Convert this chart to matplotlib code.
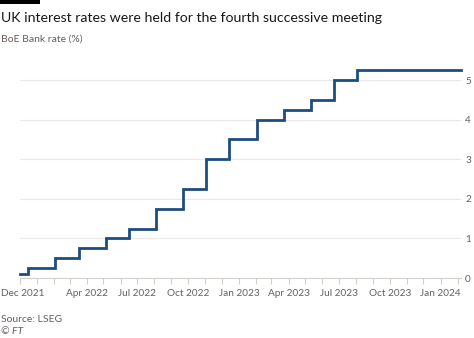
import matplotlib
matplotlib.use("Agg")
import matplotlib.pyplot as plt
import matplotlib.dates as mdates
import pandas as pd

plt.rcParams['font.family'] = ['Lato', 'DejaVu Sans']

change_dates = ["2021-12-01", "2021-12-16", "2022-02-03", "2022-03-17", "2022-05-05",
                "2022-06-16", "2022-08-04", "2022-09-22", "2022-11-03", "2022-12-15",
                "2023-02-02", "2023-03-23", "2023-05-11", "2023-06-22", "2023-08-03",
                "2024-02-07"]
rates = [0.1, 0.25, 0.5, 0.75, 1.0, 1.25, 1.75, 2.25, 3.0, 3.5, 4.0, 4.25, 4.5, 5.0, 5.25, 5.25]
tick_label_dates = ["2021-12-01", "2022-04-01", "2022-07-01", "2022-10-01", "2023-01-01",
                    "2023-04-01", "2023-07-01", "2023-10-01", "2024-01-01"]
tick_labels = ["Dec 2021", "Apr 2022", "Jul 2022", "Oct 2022", "Jan 2023",
               "Apr 2023", "Jul 2023", "Oct 2023", "Jan 2024"]
y_ticks = [0, 1, 2, 3, 4, 5]

title = "UK interest rates were held for the fourth successive meeting"
subtitle = "BoE Bank rate (%)"
source = "Source: LSEG"
credit = "© FT"

dates = pd.to_datetime(change_dates)

fig = plt.figure(figsize=(4.74, 3.38), dpi=100)
fig.patch.set_facecolor("white")
W, H = 474, 338
left, right, top, bottom = 20, 461, 62, 278
ax = fig.add_axes([left / W, 1 - bottom / H, (right - left) / W, (bottom - top) / H])

ax.step(dates, rates, where="post", color="#1d4c80", lw=2.0, solid_joinstyle="miter",
        zorder=3, clip_on=False)

ax.set_xlim(dates[0], dates[-1])
ax.set_ylim(0, (bottom - top) / 39.6)
ax.set_yticks(y_ticks)
ax.yaxis.tick_right()
ax.tick_params(axis="y", length=0, pad=3, labelsize=7.2, labelcolor="#66605c")
ax.grid(axis="y", color="#ebe8e5", lw=0.8, zorder=0)

ax.xaxis.set_major_locator(mdates.MonthLocator())
ax.xaxis.set_major_formatter(plt.NullFormatter())
ax.tick_params(axis="x", length=4, color="#d4cfca", width=0.8)
trans = ax.get_xaxis_transform()
for i, (d, lab) in enumerate(zip(pd.to_datetime(tick_label_dates), tick_labels)):
    xnum = mdates.date2num(d)
    if i == 0:
        fig.text(1 / W, 1 - 293 / H, lab, ha="left", va="center",
                 fontsize=7.2, color="#66605c")
    else:
        ax.text(xnum, -15 / (bottom - top), lab, ha="center", va="center",
                fontsize=7.2, color="#66605c", transform=trans)

for s in ["top", "left", "right"]:
    ax.spines[s].set_visible(False)
ax.spines["bottom"].set_color("#d4cfca")
ax.spines["bottom"].set_linewidth(0.8)

fig.add_artist(plt.Rectangle((0, 1 - 4 / H), 40 / W, 4 / H, transform=fig.transFigure,
                             color="black", lw=0))
fig.text(1 / W, 1 - 18 / H, title, fontsize=10.2, color="#1a1817", va="center", ha="left")
fig.text(1 / W, 1 - 39 / H, subtitle, fontsize=7.5, color="#66605c", va="center", ha="left")
fig.text(1 / W, 1 - 320 / H, source, fontsize=7.5, color="#66605c", va="center", ha="left")
fig.text(1 / W, 1 - 332 / H, credit, fontsize=7.5, color="#66605c", va="center", ha="left",
         style="italic")

fig.savefig("out.png", dpi=100, facecolor="white")
